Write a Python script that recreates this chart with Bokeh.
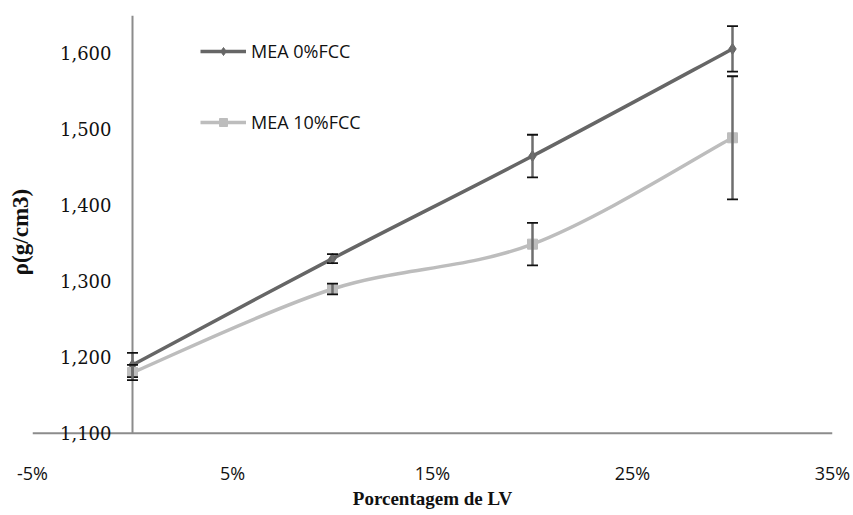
from bokeh.plotting import figure
from bokeh.models import (Range1d, FixedTicker, NumeralTickFormatter, Span, Whisker,
                          TeeHead, ColumnDataSource, Legend, LegendItem, LabelSet)
from bokeh.core.properties import value
from bokeh.embed import file_html
from bokeh.resources import INLINE

# ---- data ----
x_vals = [0.0, 0.10, 0.20, 0.30]
mea0 = [1190, 1330, 1465, 1606]
mea0_err = [16, 6, 28, 30]
mea10 = [1180, 1290, 1349, 1489]
mea10_err = [10, 7, 28, 81]
y_ticks = [1100, 1200, 1300, 1400, 1500, 1600]
y_tick_labels = ["1,100", "1,200", "1,300", "1,400", "1,500", "1,600"]
x_ticks = [-0.05, 0.05, 0.15, 0.25, 0.35]
series_names = ["MEA 0%FCC", "MEA 10%FCC"]
y_min, y_max = 1100, 1650

DARK = "#666666"
LIGHT = "#bdbdbd"
AXIS = "#8c8c8c"

# a little room below the x axis so the lowest tick label is not clipped
p = figure(frame_width=800, frame_height=433, output_backend="svg", toolbar_location=None,
           x_range=Range1d(-0.05, 0.35), y_range=Range1d(y_min - 20, y_max),
           min_border_left=32, min_border_right=18, min_border_top=15, min_border_bottom=0)
p.outline_line_color = None
p.xgrid.visible = False
p.ygrid.visible = False
p.background_fill_color = "white"

# axes lines (Excel style: y axis crosses at 0%, x axis at 1,100)
p.add_layout(Span(location=y_min, dimension="width", line_color=AXIS, line_width=2, level="underlay"))
p.segment(x0=[0], y0=[y_min], x1=[0], y1=[y_max], line_color=AXIS, line_width=2, level="underlay")

# x axis
xa = p.xaxis[0]
xa.ticker = FixedTicker(ticks=x_ticks)
xa.formatter = NumeralTickFormatter(format="0%")
xa.axis_line_color = None
xa.major_tick_line_color = None
xa.minor_tick_line_color = None
xa.major_tick_out = 0
xa.major_tick_in = 0
xa.minor_tick_out = 0
xa.minor_tick_in = 0
xa.major_label_standoff = 12
xa.major_label_text_font = "Open Sans"
xa.major_label_text_font_size = "18px"
xa.major_label_text_color = "#111111"
xa.axis_label = "Porcentagem de LV"
xa.axis_label_text_font = "Liberation Serif"
xa.axis_label_text_font_style = "bold"
xa.axis_label_text_font_size = "19px"
xa.axis_label_standoff = 0
xa.axis_label_text_color = "#111111"

# y axis (only title)
ya = p.yaxis[0]
ya.ticker = FixedTicker(ticks=[])
ya.axis_line_color = None
ya.major_tick_line_color = None
ya.minor_tick_line_color = None
ya.major_tick_out = 0
ya.major_tick_in = 0
ya.minor_tick_out = 0
ya.minor_tick_in = 0
ya.major_label_text_font_size = "0px"
ya.major_label_standoff = 0
ya.axis_label = "ρ(g/cm3)"
ya.axis_label_text_font = "Liberation Serif"
ya.axis_label_text_font_style = "bold"
ya.axis_label_text_font_size = "23px"
ya.axis_label_standoff = 0
ya.axis_label_text_color = "#111111"

# y tick labels placed just left of the 0% axis
lab_src = ColumnDataSource(dict(x=[-0.0105] * len(y_ticks), y=y_ticks, text=y_tick_labels))
p.add_layout(LabelSet(x="x", y="y", text="text", source=lab_src,
                      text_align="right", text_baseline="middle",
                      text_font=value("DejaVu Serif"), text_font_size="18px",
                      text_color="#111111"))


def smooth(xs, ys):
    n = len(xs)
    pts = list(zip(xs, ys))
    x0, y0, x1, y1, cx0, cy0, cx1, cy1 = [], [], [], [], [], [], [], []
    for i in range(n - 1):
        pm = pts[i - 1] if i > 0 else pts[i]
        pa = pts[i]
        pb = pts[i + 1]
        pn = pts[i + 2] if i + 2 < n else pts[i + 1]
        x0.append(pa[0]); y0.append(pa[1])
        x1.append(pb[0]); y1.append(pb[1])
        cx0.append(pa[0] + (pb[0] - pm[0]) / 6); cy0.append(pa[1] + (pb[1] - pm[1]) / 6)
        cx1.append(pb[0] - (pn[0] - pa[0]) / 6); cy1.append(pb[1] - (pn[1] - pa[1]) / 6)
    return dict(x0=x0, y0=y0, x1=x1, y1=y1, cx0=cx0, cy0=cy0, cx1=cx1, cy1=cy1)


# error bars
for ys, errs in [(mea0, mea0_err), (mea10, mea10_err)]:
    src = ColumnDataSource(dict(x=x_vals, up=[v + e for v, e in zip(ys, errs)],
                                lo=[v - e for v, e in zip(ys, errs)]))
    w = Whisker(base="x", upper="up", lower="lo", source=src, dimension="height",
                line_color="#6e6e6e", line_width=2.5,
                upper_head=TeeHead(size=11, line_color="#111111", line_width=1.8),
                lower_head=TeeHead(size=11, line_color="#111111", line_width=1.8),
                level="glyph")
    p.add_layout(w)

# smoothed lines
p.bezier(source=ColumnDataSource(smooth(x_vals, mea10)), x0="x0", y0="y0", x1="x1", y1="y1",
         cx0="cx0", cy0="cy0", cx1="cx1", cy1="cy1", line_color=LIGHT, line_width=3.5)
p.bezier(source=ColumnDataSource(smooth(x_vals, mea0)), x0="x0", y0="y0", x1="x1", y1="y1",
         cx0="cx0", cy0="cy0", cx1="cx1", cy1="cy1", line_color=DARK, line_width=3.5)

m0 = p.scatter(x_vals, mea0, marker="diamond", size=11, fill_color=DARK, line_color=DARK)
m1 = p.scatter(x_vals, mea10, marker="square", size=10, fill_color=LIGHT, line_color=LIGHT)

# legend proxies (single-point lines draw nothing in the plot, only in the legend)
l0 = p.line(x=x_vals[:1], y=mea0[:1], line_color=DARK, line_width=3.5)
l1 = p.line(x=x_vals[:1], y=mea10[:1], line_color=LIGHT, line_width=3.5)

legend = Legend(items=[LegendItem(label=series_names[0], renderers=[l0, m0]),
                       LegendItem(label=series_names[1], renderers=[l1, m1])],
                location=(168, 314), orientation="vertical",
                glyph_width=46, glyph_height=20, label_height=20, spacing=47, padding=0, margin=0,
                label_standoff=5, label_text_font="Open Sans", label_text_font_size="18px",
                label_text_color="#111111", border_line_color=None, background_fill_alpha=0)
p.add_layout(legend)

open("out.html", "w").write(file_html(p, INLINE))
